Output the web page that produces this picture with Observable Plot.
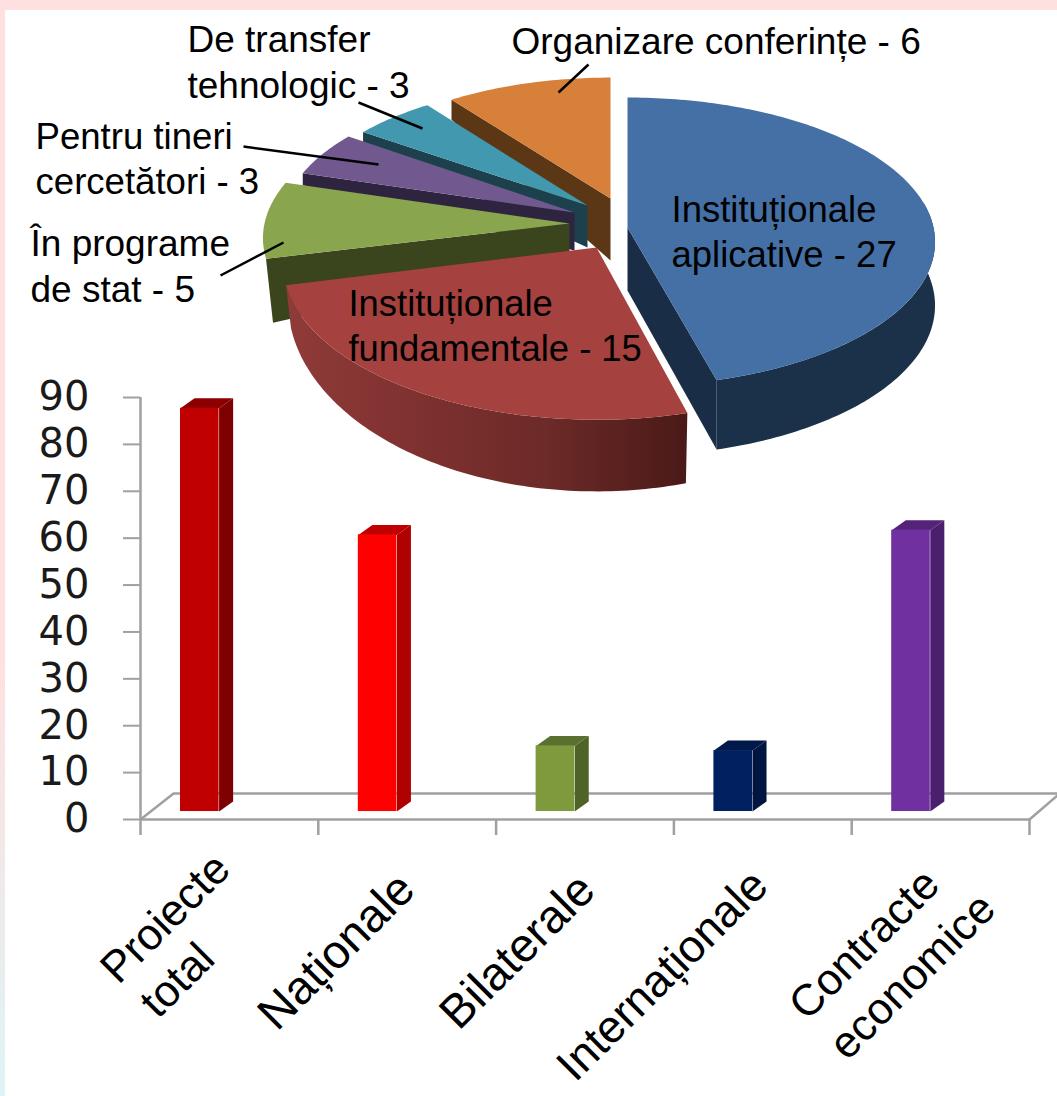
<!DOCTYPE html>
<html lang="ro">
<head>
<meta charset="utf-8">
<title>Proiecte</title>
<script src="https://cdn.jsdelivr.net/npm/d3@7"></script>
<script src="https://cdn.jsdelivr.net/npm/@observablehq/plot@0.6"></script>
<style>
  html, body { margin: 0; padding: 0; background: #fff; overflow: hidden; }
  #stage { position: relative; width: 1057px; height: 1096px; overflow: hidden; background: #fff; }
  #stage svg { position: absolute; left: 0; top: 0; display: block; background: transparent; max-width: none; }
  #topband { position: absolute; left: 0; top: 0; width: 1057px; height: 10px; background: #ffe0e0; }
  #leftband { position: absolute; left: 0; top: 0; width: 5px; height: 1096px;
    background: linear-gradient(to bottom, #ffe0e0 0%, #ffe0e0 60%, #eeeaea 82%, #def4f6 100%); }
</style>
</head>
<body>
<div id="stage"><div id="topband"></div><div id="leftband"></div></div>
<script>
// ---- bar chart data
const barCategories = ["Proiecte\ntotal", "Naționale", "Bilaterale", "Internaționale", "Contracte\neconomice"];
const barValues = [86, 59, 14, 13, 60];
const barFront = ["#c00000", "#ff0000", "#7f9a3c", "#002060", "#7030a0"];
const barSide = ["#7e0000", "#b00000", "#4f6228", "#001540", "#4a1f6e"];
const barTop = ["#8c0000", "#c00000", "#5a7030", "#00184a", "#55247a"];
const yTicks = [0, 10, 20, 30, 40, 50, 60, 70, 80, 90];

// ---- pie chart data (clockwise from 12 o'clock)
const sliceValues = [27, 15, 5, 3, 3, 6];
const sliceTop = ["#4470a5", "#a5413e", "#89a54e", "#71588f", "#4198af", "#d7803a"];
const sliceWall = ["#1a2d47", "#6c2a28", "#3a451e", "#2f2440", "#1d414c", "#5c3716"];
const sliceLabels = [
  "Instituționale\naplicative - 27",
  "Instituționale\nfundamentale - 15",
  "În programe\nde stat - 5",
  "Pentru tineri\ncercetători - 3",
  "De transfer\ntehnologic - 3",
  "Organizare conferințe - 6"
];

// ---- layout of the 3-D drawing (exploded frames, label anchors)
const frames = [
  {ax: 627, ay: 227, rx: 306, ry: 143, da: 63, dc: 66, sx: 0},
  {ax: 596, ay: 247, rx: 312, ry: 155, da: 35, dc: 70, sx: 0},
  {ax: 569, ay: 223, rx: 305, ry: 145, da: 33, dc: 64, sx: 7},
  {ax: 574, ay: 212, rx: 292, ry: 140, da: 38, dc: 12, sx: 0},
  {ax: 587, ay: 205, rx: 290, ry: 135, da: 42, dc: 12, sx: 0},
  {ax: 610, ay: 198, rx: 288, ry: 133, da: 62, dc: 20, sx: 0}
];
const persp = 0.1;
const labelAnchors = [[671, 266], [348, 360], [30, 301], [35, 193], [187, 97], [511, 53]];
const labelSizes = [36.5, 36.4, 37, 36.6, 37, 37];
const leaders = [
  [558, 92, 588, 64],
  [358, 102, 422, 128],
  [243, 146, 378, 164],
  [220, 275, 283, 242]
];

const arcs = d3.pie().sort(null)(sliceValues);
const rad = Math.PI / 180;

function project(f, t, opts = {}) {
  const u = Math.sin(t), v = -Math.cos(t), s = 1 / (1 - persp * v);
  const ax = f.ax, ay = f.ay + (opts.dy || 0);
  const rx = opts.rx || f.rx, ry = opts.ry || f.ry;
  return {x: ax + rx * u * s, y: ay + ry * v * s};
}
function arcPoints(f, a0, a1, opts) {
  const n = Math.max(2, Math.ceil(Math.abs(a1 - a0) / rad));
  return d3.range(n + 1).map(i => project(f, a0 + (a1 - a0) * i / n, opts));
}
const poly = (pts, fill) => Plot.line(pts, {x: "x", y: "y", fill, stroke: "none"});

function sliceMarks(i) {
  const f = frames[i], {startAngle: a0, endAngle: a1} = arcs[i];
  const marks = [];
  const top = [{x: f.ax, y: f.ay}, ...arcPoints(f, a0, a1)];
  if (i === 0) {
    // front radial wall and outer rim of the detached blue slice
    const c = project(f, a1);
    const b = {dy: f.da, ry: 149};
    const cb = project(f, a1, b);
    marks.push(poly([{x: f.ax, y: f.ay}, c, cb, {x: f.ax, y: f.ay + f.da}], sliceWall[0]));
    marks.push(poly([...arcPoints(f, 80 * rad, a1), ...arcPoints(f, a1, 80 * rad, b)], "#1b3049"));
  } else if (i === 1) {
    const b = {dy: f.da, ry: 188, rx: 307};
    marks.push(poly([...arcPoints(f, a0, a1), ...arcPoints(f, a1, a0, b)], "url(#redRim)"));
  } else {
    // visible radial wall on the clockwise-start edge
    const c = project(f, a0);
    marks.push(poly([
      {x: f.ax, y: f.ay}, c,
      {x: c.x + f.sx, y: c.y + f.dc},
      {x: f.ax, y: f.ay + f.da}
    ], sliceWall[i]));
  }
  marks.push(poly(top, sliceTop[i]));
  return marks;
}

// painter's order: back slices first
const paintOrder = [5, 4, 3, 2, 1, 0];

const gradientDefs = () => {
  const defs = d3.create("svg:defs");
  const g = defs.append("linearGradient").attr("id", "redRim")
    .attr("gradientUnits", "userSpaceOnUse")
    .attr("x1", 285).attr("x2", 686).attr("y1", 0).attr("y2", 0);
  [[0, "#8f3b39"], [0.3, "#803230"], [0.65, "#6c2a28"], [1, "#4a1a18"]].forEach(([o, c]) =>
    g.append("stop").attr("offset", o).attr("stop-color", c));
  return defs.node();
};

// ---- bar chart units for the pseudo-depth
const barOffset = 0.225, barWidth = 0.217, sideX = 0.079, sideY = 2.13, barBase = 1.7;
const floorX = 0.186, floorY = 5.54;
const bars = barValues.map((v, i) => ({
  i, v,
  x1: i + barOffset, x2: i + barOffset + barWidth,
  y1: barBase, y2: v + barBase,
  front: barFront[i], side: barSide[i], top: barTop[i]
}));

const labelLines = [
  [["Proiecte", 165, 918, 44], ["total", 177, 980, 44]],
  [["Naționale", 336, 951, 47]],
  [["Bilaterale", 517, 951, 47]],
  [["Internaționale", 662, 975, 45.5]],
  [["Contracte", 864, 944, 44], ["economice", 912, 976, 44]]
];
const xOfPx = px => (px - 140) / 177.8;
const yOfPx = py => (819 - py) / 4.689;

const axisColor = "#a0a0a0";
const barPlot = Plot.plot({
  width: 1057, height: 1096,
  marginLeft: 140, marginRight: 28, marginTop: 397, marginBottom: 277,
  x: {domain: [0, 5]},
  y: {domain: [0, 90]},
  style: {background: "transparent", color: "#000"},
  marks: [
    // floor
    Plot.line([{x: 0, y: 0}, {x: floorX, y: floorY}, {x: 5 + 28 / 177.8, y: floorY}], {x: "x", y: "y", stroke: axisColor, strokeWidth: 2.5}),
    Plot.line([{x: 5, y: 0}, {x: 5 + 28 / 177.8, y: 24 / 4.689}], {x: "x", y: "y", stroke: axisColor, strokeWidth: 2.5}),
    Plot.ruleY([0], {stroke: axisColor, strokeWidth: 2.5}),
    Plot.ruleX([0], {y1: 0, y2: 90, stroke: axisColor, strokeWidth: 2.5}),
    Plot.axisY({
      ticks: yTicks, tickSize: 17, tickPadding: 34, label: null,
      fontSize: 40, fontFamily: "'DejaVu Sans'", stroke: axisColor, strokeWidth: 2, fill: "#1a1a1a"
    }),
    Plot.axisX({
      ticks: d3.range(6), tickSize: 16, tickFormat: () => "", label: null,
      stroke: axisColor, strokeWidth: 2.5
    }),
    // bars: side, top, front
    ...bars.flatMap(b => [
      Plot.line([
        {x: b.x2, y: b.y1}, {x: b.x2 + sideX, y: b.y1 + sideY},
        {x: b.x2 + sideX, y: b.y2 + sideY}, {x: b.x2, y: b.y2}
      ], {x: "x", y: "y", fill: b.side, stroke: "none"}),
      Plot.line([
        {x: b.x1, y: b.y2}, {x: b.x1 + sideX, y: b.y2 + sideY},
        {x: b.x2 + sideX, y: b.y2 + sideY}, {x: b.x2, y: b.y2}
      ], {x: "x", y: "y", fill: b.top, stroke: "none"})
    ]),
    Plot.rect(bars, {x1: "x1", x2: "x2", y1: "y1", y2: "y2", fill: "front"}),
    // category labels
    ...labelLines.flatMap(lines => lines.map(([t, px, py, fs]) =>
      Plot.text([t], {
        x: xOfPx(px), y: yOfPx(py), text: d => d, rotate: -45,
        fontSize: fs, fontFamily: "'Liberation Sans'", fill: "#000",
        textAnchor: "middle", lineAnchor: "middle"
      })))
  ]
});

const piePlot = Plot.plot({
  width: 1057, height: 1096, margin: 0,
  x: {domain: [0, 1057], range: [0, 1057], axis: null},
  y: {domain: [0, 1096], range: [0, 1096], axis: null},
  style: {background: "transparent", color: "#000"},
  marks: [
    gradientDefs,
    ...paintOrder.flatMap(sliceMarks),
    Plot.link(leaders, {
      x1: d => d[0], y1: d => d[1], x2: d => d[2], y2: d => d[3],
      stroke: "#000", strokeWidth: 2.5
    }),
    ...sliceLabels.map((label, i) => Plot.text([label], {
      x: labelAnchors[i][0], y: labelAnchors[i][1],
      text: d => d, fontSize: labelSizes[i], fontFamily: "'Liberation Sans'", fill: "#000",
      textAnchor: "start", lineAnchor: "bottom", lineHeight: 1.22
    }))
  ]
});

const stage = document.getElementById("stage");
stage.append(barPlot, piePlot);
</script>
</body>
</html>
